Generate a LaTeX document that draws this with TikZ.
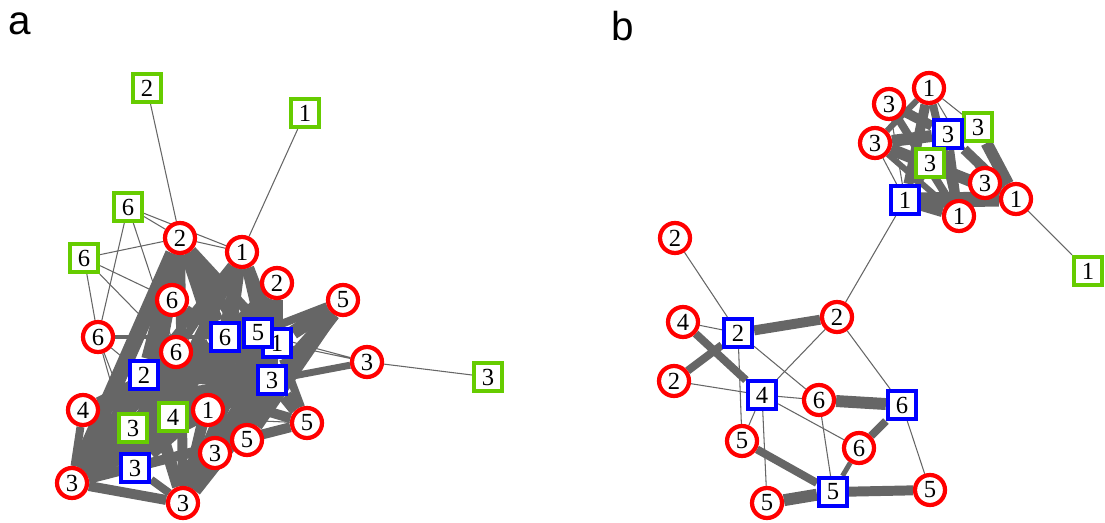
\documentclass[tikz,border=0pt]{standalone}
\usepackage{fontspec}
\setmainfont{Liberation Serif}
\newfontfamily\panelfont{Liberation Sans}
\usetikzlibrary{backgrounds}
\definecolor{egray}{RGB}{102,102,102}
\definecolor{ngreen}{RGB}{102,204,0}
\tikzset{
  vtx/.style={fill=white, line width=2.4pt, inner sep=0pt, font=\fontsize{14}{14}\selectfont},
  rnode/.style={vtx, circle, draw=red, minimum size=0.6cm},
  bnode/.style={vtx, rectangle, draw=blue, minimum size=0.56cm},
  gnode/.style={vtx, rectangle, draw=ngreen, minimum size=0.56cm},
  ethin/.style={draw=egray, line width=0.6pt},
  ew/.style={draw=egray, line width=#1*0.567pt},
  panel/.style={font=\panelfont\fontsize{23}{23}\selectfont},
}
\begin{document}
\begin{tikzpicture}[x=0.02cm, y=-0.02cm]
\useasboundingbox (0,0) rectangle (1105,523);

% panel labels
\node[panel] (lbla) at (20,24) {a};
\node[panel] (lblb) at (623,26) {b};

% ---- panel a: vertices
\node[gnode] (aG2) at (147,88) {2};
\node[gnode] (aG1) at (305,113) {1};
\node[gnode] (aG6a) at (128,207) {6};
\node[gnode] (aG6b) at (84,258) {6};
\node[rnode] (aR2a) at (180,238) {2};
\node[rnode] (aR1a) at (242,252) {1};
\node[rnode] (aR2b) at (277,283) {2};
\node[rnode] (aR6a) at (172,300) {6};
\node[rnode] (aR5a) at (343,300) {5};
\node[rnode] (aR6l) at (98,337) {6};
\node[bnode] (aB6) at (225,337) {6};
\node[bnode] (aB1) at (277,343) {1};
\node[bnode] (aB5) at (258,333) {5};
\node[rnode] (aR6b) at (176,352) {6};
\node[rnode] (aR3a) at (367,362) {3};
\node[gnode] (aG3r) at (488,377) {3};
\node[bnode] (aB2) at (144,375) {2};
\node[bnode] (aB3a) at (272,380) {3};
\node[rnode] (aR4) at (83,410) {4};
\node[gnode] (aG4) at (173,417) {4};
\node[rnode] (aR1b) at (208,410) {1};
\node[rnode] (aR5b) at (307,423) {5};
\node[gnode] (aG3) at (133,428) {3};
\node[rnode] (aR5c) at (247,440) {5};
\node[rnode] (aR3b) at (215,453) {3};
\node[bnode] (aB3b) at (135,468) {3};
\node[rnode] (aR3c) at (72,483) {3};
\node[rnode] (aR3d) at (183,503) {3};

% ---- panel b: vertices
\node[rnode] (bR1t) at (929,88) {1};
\node[rnode] (bR3a) at (889,104) {3};
\node[rnode] (bR3b) at (875,143) {3};
\node[gnode] (bG3a) at (978,127) {3};
\node[bnode] (bB3) at (948,134) {3};
\node[gnode] (bG3b) at (930,163) {3};
\node[rnode] (bR3c) at (985,183) {3};
\node[bnode] (bB1) at (905,200) {1};
\node[rnode] (bR1r) at (1016,199) {1};
\node[rnode] (bR1b) at (959,216) {1};
\node[gnode] (bG1) at (1088,271) {1};
\node[rnode] (bR2t) at (675,238) {2};
\node[rnode] (bR2r) at (837,317) {2};
\node[rnode] (bR4) at (683,322) {4};
\node[bnode] (bB2) at (738,333) {2};
\node[rnode] (bR2l) at (674,381) {2};
\node[bnode] (bB4) at (762,395) {4};
\node[rnode] (bR6a) at (819,400) {6};
\node[bnode] (bB6) at (902,405) {6};
\node[rnode] (bR5a) at (742,441) {5};
\node[rnode] (bR6b) at (859,448) {6};
\node[bnode] (bB5) at (833,492) {5};
\node[rnode] (bR5r) at (930,490) {5};
\node[rnode] (bR5b) at (767,503) {5};

\begin{pgfonlayer}{background}
% ---- panel a: edges
\draw[ethin] (aG2) -- (aR2a) (aG1) -- (aR1a) (aG3r) -- (aR3a);
\draw[ethin] (aG6a) -- (aR2a) (aG6a) -- (aR1a) (aR2a) -- (aR1a);
\draw[ethin] (aG6a) -- (aR6l) (aG6a) -- (aR6b);
\draw[ethin] (aG6b) -- (aR2a) (aG6b) -- (aR6a) (aG6b) -- (aR6b) (aG6b) -- (aR6l);
\draw[ethin] (aR6l) -- (aG3) (aR6l) -- (aB3b) (aR6l) -- (aB2);
\draw[ethin] (aR4) -- (aB2) (aR4) -- (aR6b);
\draw[ethin] (aR3a) -- (aB1) (aR3a) -- (aB5) (aR5b) -- (aG4);
\draw[ew=5] (aR6l) -- (aB6);
\draw[ew=7] (aR3a) -- (aB3a);
% dense core
\draw[ew=14] (aR2a) -- (aB2) (aB2) -- (aB3a) (aR5a) -- (aB1) (aR5b) -- (aB3a);
\draw[ew=12] (aR2a) -- (aB6) (aR1a) -- (aB1) (aR2b) -- (aB1) (aR5a) -- (aB3a);
\draw[ew=10] (aR2a) -- (aB1) (aR2a) -- (aB3a) (aR1a) -- (aB6) (aR2b) -- (aB3a);
\draw[ew=8] (aR2a) -- (aR6a) (aR1a) -- (aB3a) (aR1a) -- (aB2) (aR1a) -- (aR6b);
\draw[ew=8] (aR2b) -- (aB6) (aR5a) -- (aB5) (aR5b) -- (aB1);
\draw[ew=10] (aR6a) -- (aB6) (aR6a) -- (aB2) (aR6b) -- (aB1) (aR6b) -- (aB2);
\draw[ew=12] (aB2) -- (aB6) (aR4) -- (aB3a) (aR3c) -- (aB3a) (aR3c) -- (aB2);
\draw[ew=10] (aB2) -- (aB1) (aR4) -- (aB6) (aR3d) -- (aB6);
\draw[ew=14] (aR3c) -- (aB6) (aR3d) -- (aB1) (aR3d) -- (aB3a);
\draw[ew=12] (aR3d) -- (aB2) (aB3b) -- (aB1) (aR5c) -- (aB3a) (aR3b) -- (aB1);
\draw[ew=10] (aB3b) -- (aB6) (aG3) -- (aB3a) (aG3) -- (aB6) (aG4) -- (aB1);
\draw[ew=10] (aR1b) -- (aB3a) (aR5c) -- (aB6) (aR3c) -- (aR3d);
\draw[ew=8] (aR3b) -- (aB6) (aR4) -- (aR3c) (aR3d) -- (aB3b);
\draw[ew=12] (aR3c) -- (aR6b) (aR3c) -- (aB1) (aR4) -- (aB1);
\draw[ew=10] (aR2a) -- (aR3d) (aR1a) -- (aR3d) (aR2b) -- (aR3c);
\draw[ew=16] (aR2a) -- (aR3c) (aR2a) -- (aB3b) (aR5a) -- (aR3d);
\draw[ew=12] (aR1a) -- (aB3b) (aR2b) -- (aR3d) (aR5a) -- (aR5c);
\draw[ew=10] (aR5b) -- (aR3c) (aR5b) -- (aB2) (aR2a) -- (aR5c) (aR1a) -- (aR3b);

% ---- panel b: edges
\draw[ethin] (bR2t) -- (bB2) (bR4) -- (bB2) (bR2l) -- (bB4);
\draw[ethin] (bB2) -- (bR5a) (bB2) -- (bR6a);
\draw[ethin] (bR2r) -- (bB4) (bR2r) -- (bB6) (bR2r) -- (bB1);
\draw[ethin] (bB4) -- (bR6a) (bB4) -- (bR5a) (bB4) -- (bR5b) (bB4) -- (bR6b);
\draw[ethin] (bR6a) -- (bB5) (bB6) -- (bR5r);
\draw[ew=8] (bR4) -- (bB4) (bR2l) -- (bB2) (bB6) -- (bR6b) (bR5a) -- (bB5);
\draw[ew=10] (bB2) -- (bR2r) (bB5) -- (bR5r);
\draw[ew=12] (bR6a) -- (bB6) (bR5b) -- (bB5);
\draw[ew=5] (bR6b) -- (bB5);
% top cluster
\draw[ethin] (bR3b) -- (bB1) (bR3a) -- (bB1) (bR1t) -- (bG3a) (bR1t) -- (bR3c);
\draw[ethin] (bG3b) -- (bR3c) (bR1r) -- (bG1) (bR3b) -- (bG3b) (bR3a) -- (bG3b);
\draw[ew=12] (bB1) -- (bR1b) (bG3a) -- (bR1r) (bR3b) -- (bB3);
\draw[ew=15] (bB1) -- (bR1r);
\draw[ew=10] (bR3a) -- (bB3) (bR1t) -- (bB1) (bB3) -- (bR1r) (bB3) -- (bB1);
\draw[ew=6] (bR3b) -- (bR1b) (bR1t) -- (bR3b) (bG3b) -- (bR1r);
\draw[ew=12] (bR3b) -- (bR1r);
\draw[ew=8] (bR3a) -- (bR1b) (bB3) -- (bR1b) (bR1t) -- (bR1b);
\end{pgfonlayer}
\end{tikzpicture}
\end{document}
